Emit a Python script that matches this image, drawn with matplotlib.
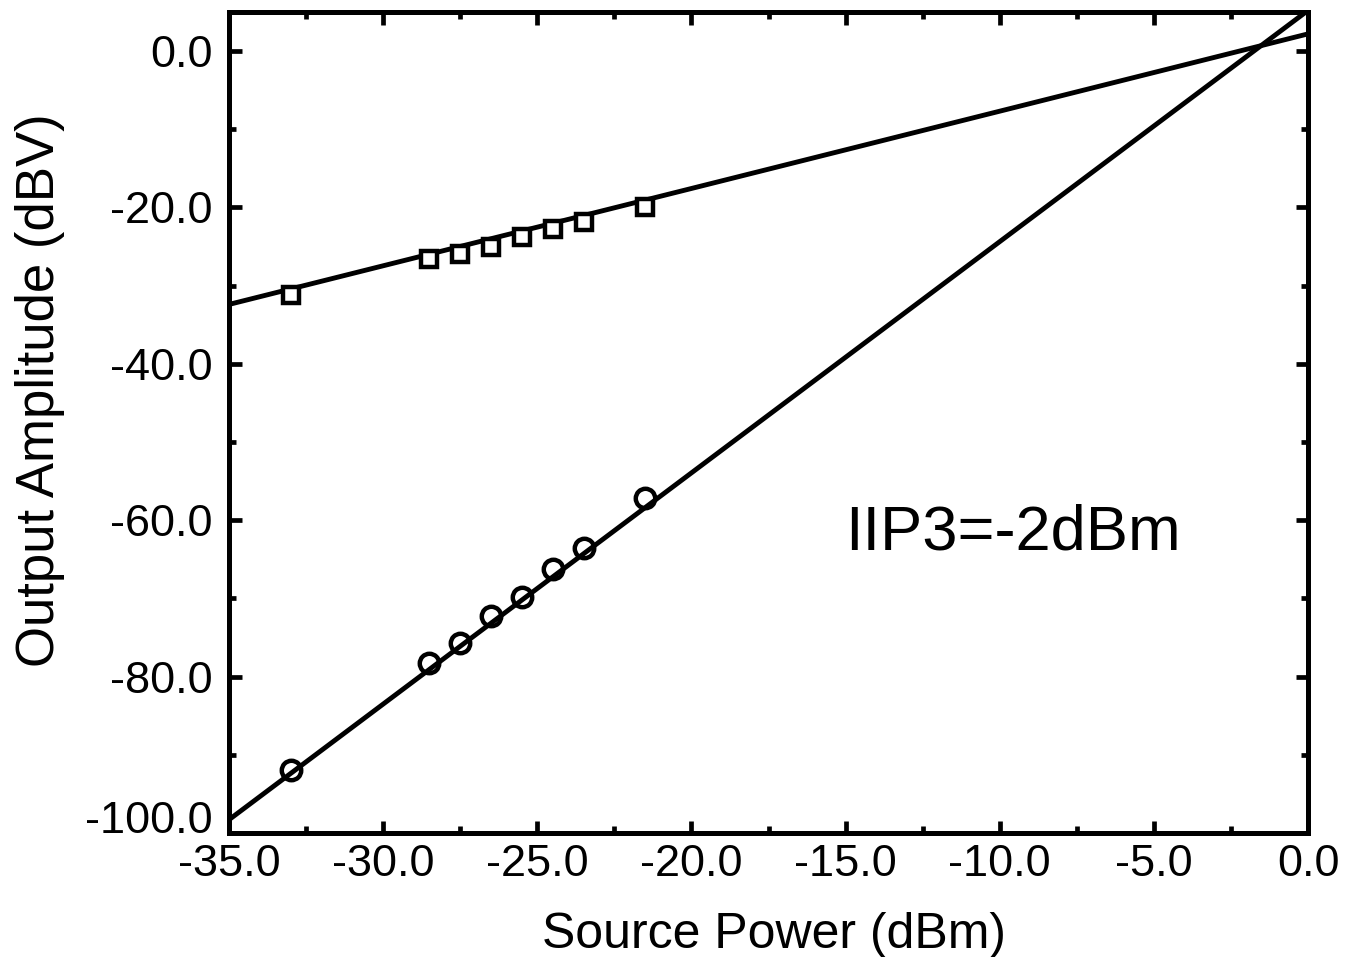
import matplotlib
matplotlib.use("Agg")
import matplotlib.pyplot as plt
from matplotlib.ticker import MultipleLocator, FormatStrFormatter

plt.rcParams['font.family'] = ['Liberation Sans', 'DejaVu Sans']
plt.rcParams['axes.unicode_minus'] = False

# measured points (dBm in, dBV out)
p_in = [-33.0, -28.5, -27.5, -26.5, -25.5, -24.5, -23.5, -21.5]
fund_out = [-31.2, -26.6, -25.9, -25.0, -23.8, -22.8, -21.8, -19.9]
im3_out = [-92.0, -78.2, -75.7, -72.2, -69.8, -66.2, -63.6, -57.1]

# fitted lines, end points
fit_x = [-35.0, 0.0]
fund_fit = [-32.4, 2.2]
im3_fit = [-98.3, 5.2]

W, H = 1346, 957
fig = plt.figure(figsize=(W / 100, H / 100), dpi=100, facecolor='white')
ax = fig.add_axes([229 / W, 1 - 833 / H, (1308 - 229) / W, (833 - 12) / H])

lw = 3.5
ax.plot(fit_x, fund_fit, color='black', lw=lw, zorder=2)
ax.plot(fit_x, im3_fit, color='black', lw=lw, zorder=2)
ax.plot(p_in, fund_out, ls='none', marker='s', ms=12, mfc='white',
        mec='black', mew=3.2, zorder=3)
ax.plot(p_in, im3_out, ls='none', marker='o', ms=14, mfc='none',
        mec='black', mew=3.2, zorder=3)

ax.text(-15.0, -63.7, 'IIP3=-2dBm', fontsize=45.5, va='baseline', ha='left')

ax.set_xlim(-35, 0)
ax.set_ylim(-100, 5)
ax.xaxis.set_major_locator(MultipleLocator(5))
ax.xaxis.set_minor_locator(MultipleLocator(2.5))
ax.yaxis.set_major_locator(MultipleLocator(20))
ax.yaxis.set_minor_locator(MultipleLocator(10))
ax.xaxis.set_major_formatter(FormatStrFormatter('%.1f'))
ax.yaxis.set_major_formatter(FormatStrFormatter('%.1f'))

for s in ax.spines.values():
    s.set_linewidth(3.6)
ax.tick_params(which='both', direction='in', top=True, right=True, width=3.4)
ax.tick_params(which='major', length=9, labelsize=32.5)
ax.tick_params(axis='x', which='major', pad=8)
ax.tick_params(axis='y', which='major', pad=12)
ax.tick_params(which='minor', length=5)

# bottom y label sits a bit higher, clear of the x labels
fig.canvas.draw()
for lab in ax.get_yticklabels():
    if lab.get_text() == '-100.0':
        lab.set_va('baseline')

fig.text(774 / W, 1 - 948 / H, 'Source Power (dBm)', fontsize=36,
         ha='center', va='baseline')
fig.text(40 / W, 1 - 390 / H, 'Output Amplitude (dBV)', fontsize=38,
         ha='center', va='center', rotation=90)

fig.savefig('out.png', dpi=100, facecolor='white')
